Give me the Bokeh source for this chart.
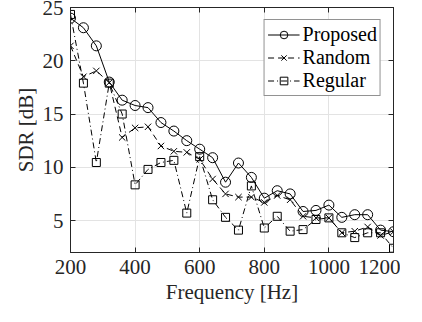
from bokeh.plotting import figure
from bokeh.models import (Range1d, FixedTicker, LinearAxis, Legend, LegendItem,
                          ColumnDataSource)
from bokeh.embed import file_html
from bokeh.resources import INLINE

freq = [200, 240, 280, 320, 360, 400, 440, 480, 520, 560, 600, 640, 680,
        720, 760, 800, 840, 880, 920, 960, 1000, 1040, 1080, 1120, 1160, 1200]
proposed = [24.0, 23.1, 21.4, 18.0, 16.3, 15.8, 15.6, 14.2, 13.4, 12.5, 11.7,
            10.9, 8.6, 10.4, 9.05, 7.1, 7.8, 7.5, 5.85, 5.95, 6.45, 5.3, 5.55,
            5.55, 4.1, 3.95]
random_ = [21.4, 18.5, 19.05, 17.95, 12.8, 13.7, 13.8, 12.0, 11.5, 11.4, 10.75,
           8.9, 7.5, 7.2, 7.2, 6.7, 7.35, 6.95, 5.4, 5.25, 5.25, 3.85, 4.0,
           4.4, 3.6, 3.95]
regular = [24.35, 17.9, 10.45, 17.9, 15.0, 8.35, 9.8, 10.45, 10.65, 5.7, 11.0,
           6.95, 5.3, 4.1, 8.25, 4.3, 5.4, 4.0, 4.15, 5.1, 5.25, 3.85, 3.4,
           3.85, 3.85, 2.4]
x_ticks = [200, 400, 600, 800, 1000, 1200]
y_ticks = [5, 10, 15, 20, 25]
series_names = ["Proposed", "Random", "Regular"]

FONT = "Liberation Serif"
FS = "21px"
TXT = "#262626"
AX = "#262626"

p = figure(width=400, height=306, output_backend="svg", toolbar_location=None,
           x_range=Range1d(200, 1200), y_range=Range1d(2, 25),
           min_border_left=70, min_border_right=7, min_border_top=7,
           min_border_bottom=52)
p.background_fill_color = "white"
p.border_fill_color = "white"
p.outline_line_color = AX
p.outline_line_width = 1

for ax, ticks in ((p.xaxis[0], x_ticks), (p.yaxis[0], y_ticks)):
    ax.ticker = FixedTicker(ticks=ticks)
    ax.minor_tick_line_color = None
    ax.major_tick_in = 5
    ax.major_tick_out = 0
    ax.axis_line_color = AX
    ax.major_tick_line_color = AX
    ax.major_label_text_font = FONT
    ax.major_label_text_font_size = FS
    ax.major_label_text_color = TXT
    ax.axis_label_text_font = FONT
    ax.axis_label_text_font_size = FS
    ax.axis_label_text_color = TXT
    ax.axis_label_text_font_style = "normal"

p.xaxis[0].major_label_standoff = 7
p.yaxis[0].major_label_standoff = 7
p.xaxis[0].axis_label = "Frequency [Hz]"
p.yaxis[0].axis_label = "SDR [dB]"
p.xaxis[0].axis_label_standoff = 3
p.yaxis[0].axis_label_standoff = 2

for loc, ticks in (("above", x_ticks), ("right", y_ticks)):
    a = LinearAxis(ticker=FixedTicker(ticks=ticks))
    a.minor_tick_line_color = None
    a.major_tick_in = 5
    a.major_tick_out = 0
    a.major_label_overrides = {t: "" for t in ticks}
    a.major_label_standoff = 0
    a.axis_line_color = AX
    a.major_tick_line_color = AX
    p.add_layout(a, loc)

p.xgrid.ticker = FixedTicker(ticks=x_ticks)
p.ygrid.ticker = FixedTicker(ticks=y_ticks)
p.xgrid.grid_line_color = "#e3e3e3"
p.ygrid.grid_line_color = "#e3e3e3"

src = ColumnDataSource(dict(f=freq, a=proposed, b=random_, c=regular))

l1 = p.line("f", "a", source=src, line_color="black", line_width=1)
s1 = p.scatter("f", "a", source=src, marker="circle", size=10,
               fill_color=None, line_color="black", line_width=1)
l2 = p.line("f", "b", source=src, line_color="black", line_width=1,
            line_dash="6 4")
s2 = p.scatter("f", "b", source=src, marker="x", size=9,
               line_color="black", line_width=1)
l3 = p.line("f", "c", source=src, line_color="black", line_width=1,
            line_dash="6 3 1 3")
s3 = p.scatter("f", "c", source=src, marker="square", size=8,
               fill_color=None, line_color="black", line_width=1)

legend = Legend(items=[LegendItem(label=series_names[0], renderers=[l1, s1]),
                       LegendItem(label=series_names[1], renderers=[l2, s2]),
                       LegendItem(label=series_names[2], renderers=[l3, s3])],
                location="top_right")
legend.label_text_font = FONT
legend.label_text_font_size = "20px"
legend.label_text_color = "black"
legend.border_line_color = AX
legend.border_line_width = 1
legend.background_fill_alpha = 1
legend.glyph_width = 32
legend.glyph_height = 19
legend.label_height = 19
legend.label_standoff = 3
legend.spacing = 0
legend.padding = 3
legend.margin = 12
p.add_layout(legend, "center")

open("out.html", "w").write(file_html(p, INLINE))
